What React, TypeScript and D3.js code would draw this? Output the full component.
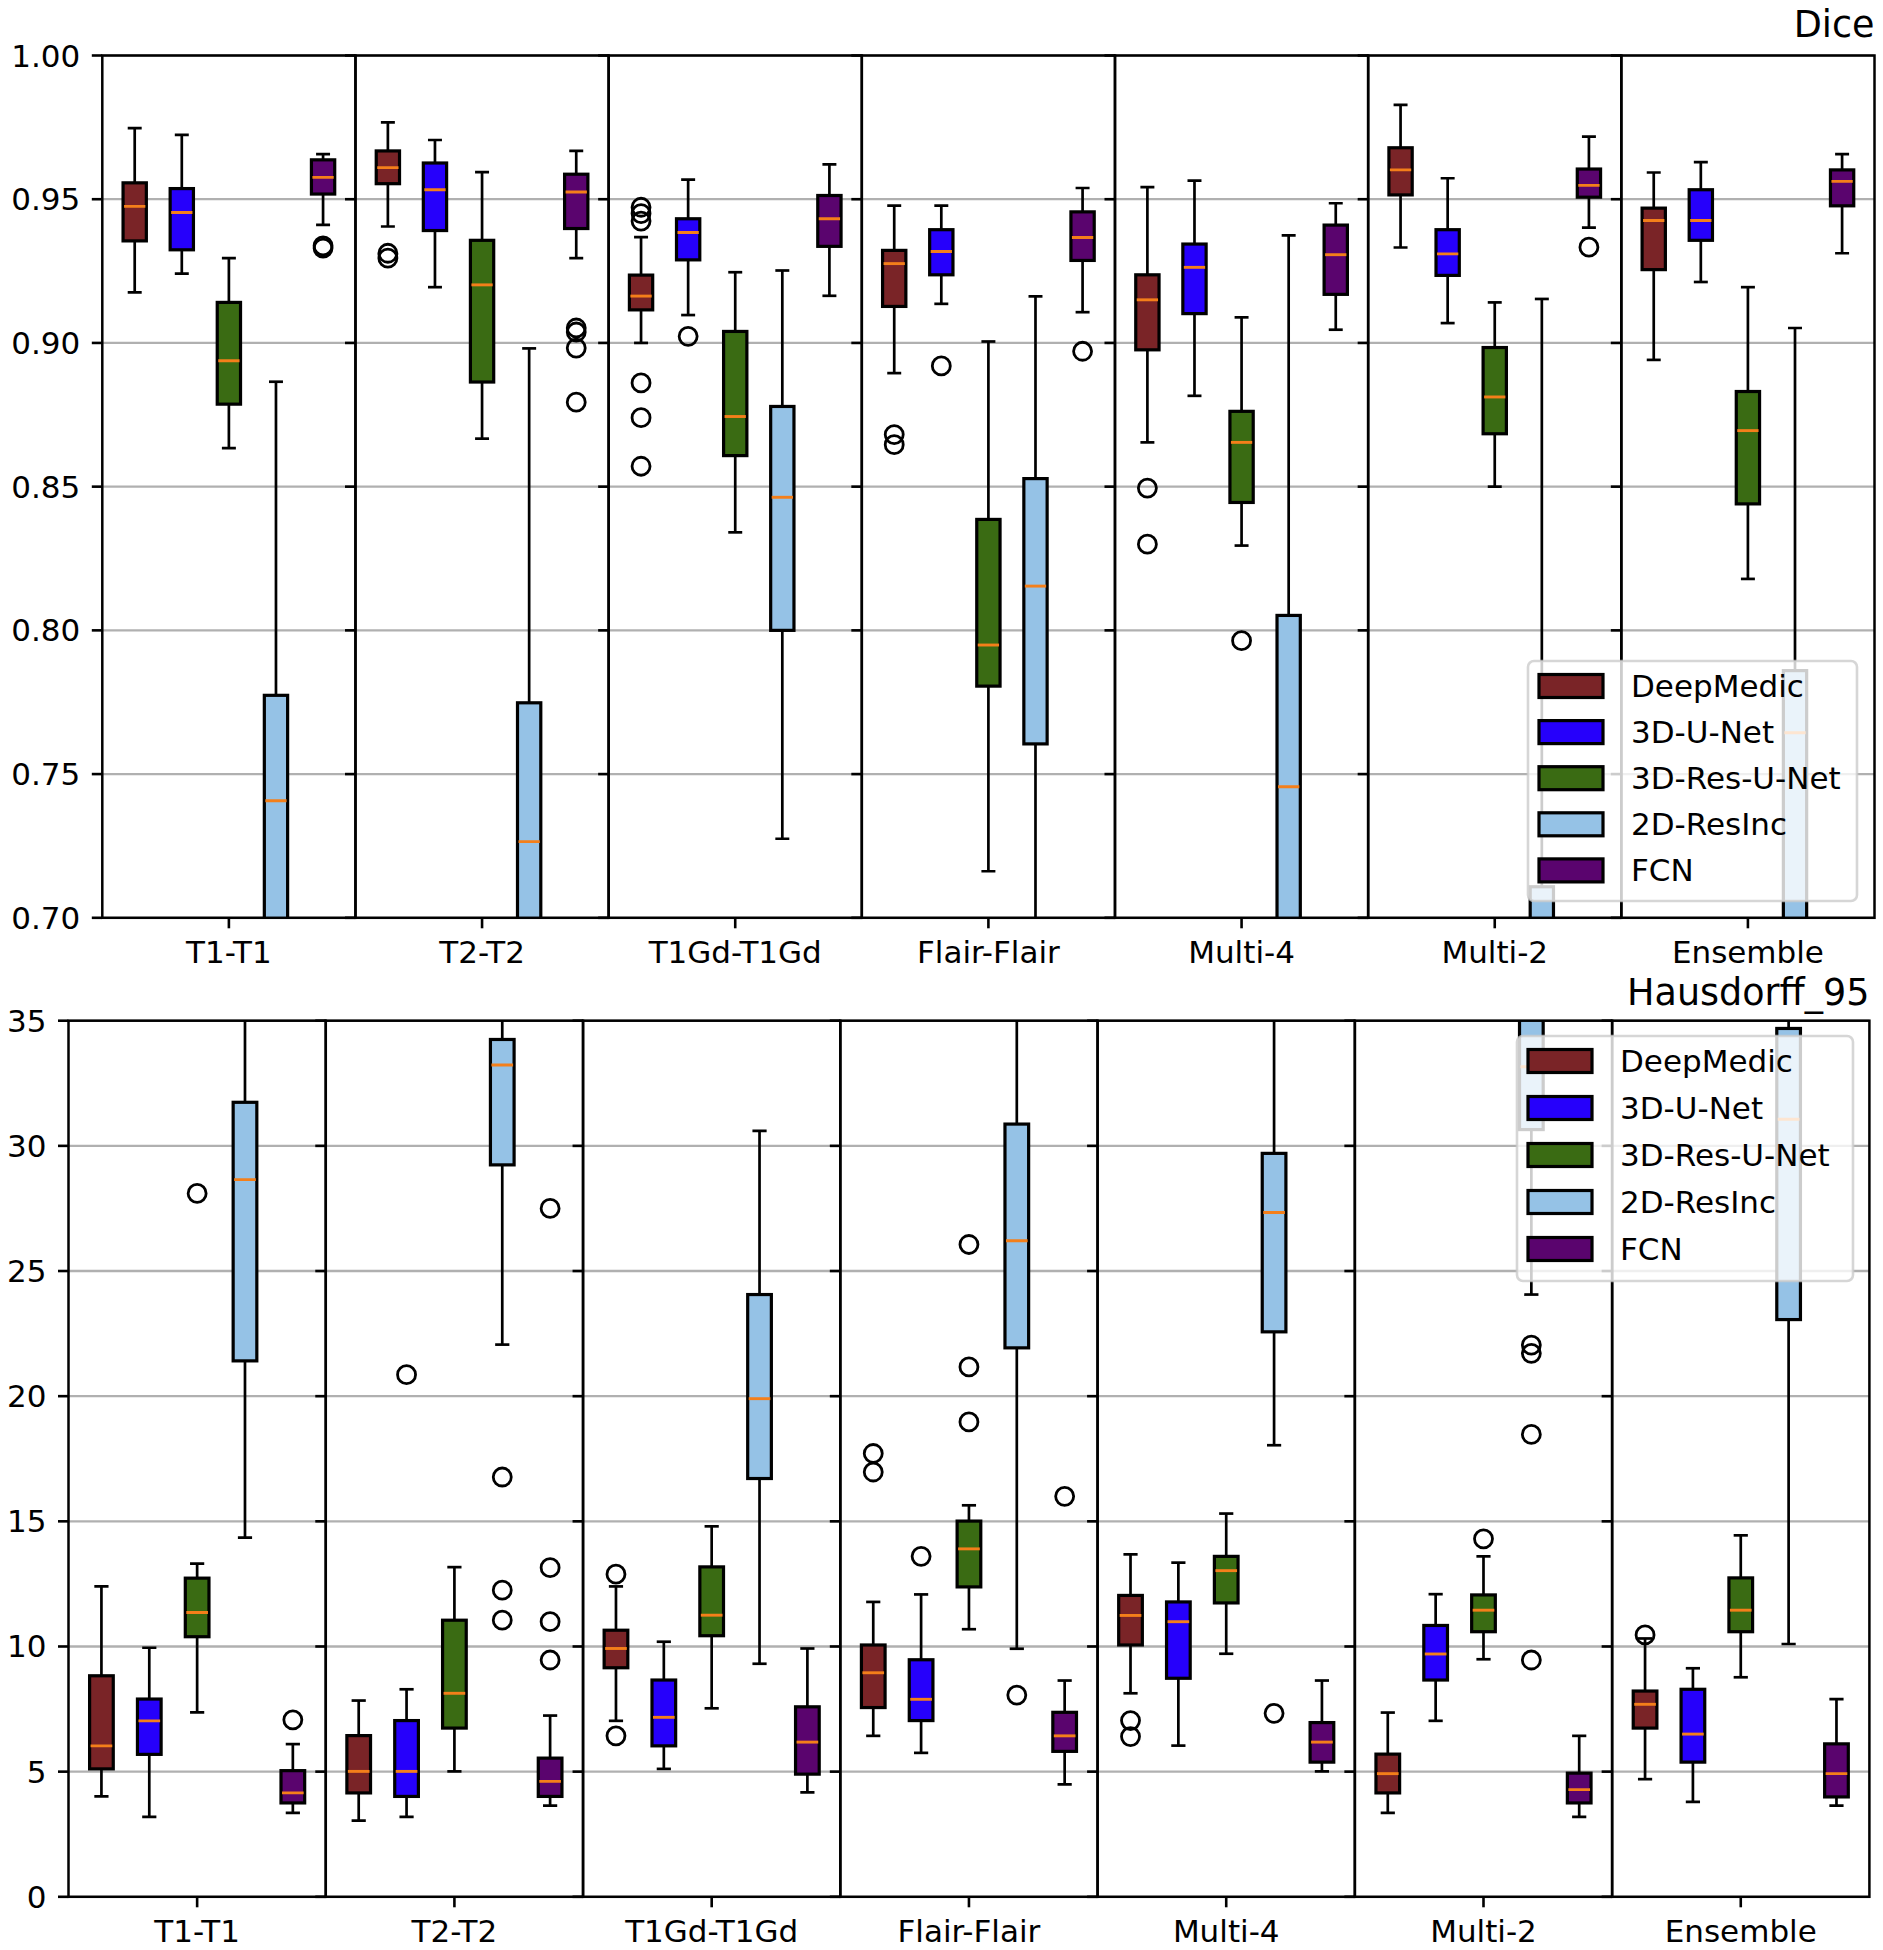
import React from "react";
import * as d3 from "d3";

// ---------- data ----------
const categories = ["T1-T1", "T2-T2", "T1Gd-T1Gd", "Flair-Flair", "Multi-4", "Multi-2", "Ensemble"];
const models = ["DeepMedic", "3D-U-Net", "3D-Res-U-Net", "2D-ResInc", "FCN"];
const modelColors = ["#7a2427", "#2600fb", "#3a6b13", "#95c2e6", "#5a046e"];

// each row: [lower whisker, q1, median, q3, upper whisker] per category
const diceDeepMedic = [
  [0.9176, 0.9355, 0.9475, 0.9557, 0.9747],
  [0.9405, 0.9554, 0.961, 0.9668, 0.9767],
  [0.9, 0.9115, 0.9163, 0.9236, 0.9368],
  [0.8895, 0.9127, 0.9276, 0.9322, 0.9478],
  [0.8654, 0.8976, 0.915, 0.9237, 0.9542],
  [0.9332, 0.9515, 0.9602, 0.9679, 0.9828],
  [0.8941, 0.9255, 0.9426, 0.9469, 0.9593],
];
const diceDeepMedicOut = [[], [0.9312, 0.9295], [0.9472, 0.945, 0.9424, 0.8861, 0.874, 0.8571], [0.8681, 0.8646], [0.8495, 0.83], [], []];

const diceUNet = [
  [0.9241, 0.9324, 0.9454, 0.9537, 0.9724],
  [0.9194, 0.9391, 0.9533, 0.9626, 0.9706],
  [0.9097, 0.9289, 0.9384, 0.9432, 0.9568],
  [0.9136, 0.9237, 0.9318, 0.9394, 0.9478],
  [0.8816, 0.9102, 0.9263, 0.9344, 0.9565],
  [0.9069, 0.9235, 0.931, 0.9394, 0.9573],
  [0.9212, 0.9357, 0.9426, 0.9533, 0.9629],
];
const diceUNetOut = [[], [], [0.9023], [0.892], [], [], []];

const diceResUNet = [
  [0.8634, 0.8787, 0.8938, 0.9141, 0.9295],
  [0.8667, 0.8864, 0.9202, 0.9357, 0.9594],
  [0.8341, 0.8608, 0.8744, 0.904, 0.9246],
  [0.7162, 0.7806, 0.7949, 0.8386, 0.9005],
  [0.8295, 0.8445, 0.8654, 0.8762, 0.9089],
  [0.85, 0.8684, 0.8812, 0.8984, 0.9141],
  [0.8179, 0.844, 0.8695, 0.8831, 0.9194],
];
const diceResUNetOut = [[], [], [], [], [0.7964], [], []];

const diceResInc = [
  [0.45, 0.62, 0.7407, 0.7774, 0.8865],
  [0.48, 0.64, 0.7265, 0.7748, 0.8981],
  [0.7275, 0.8, 0.8463, 0.8779, 0.9252],
  [0.6, 0.7605, 0.8154, 0.8528, 0.9162],
  [0.5, 0.66, 0.7456, 0.8052, 0.9374],
  [0.4, 0.55, 0.65, 0.7108, 0.9153],
  [0.45, 0.62, 0.7644, 0.786, 0.9052],
];
const diceResIncOut = [[], [], [], [], [], [], []];

const diceFCN = [
  [0.9411, 0.9518, 0.9576, 0.9637, 0.9657],
  [0.9295, 0.9398, 0.9525, 0.9587, 0.9668],
  [0.9164, 0.9336, 0.9432, 0.9513, 0.9621],
  [0.9107, 0.9287, 0.9367, 0.9456, 0.9539],
  [0.9046, 0.9169, 0.9307, 0.941, 0.9486],
  [0.9401, 0.9507, 0.9548, 0.9605, 0.9718],
  [0.9312, 0.9477, 0.9562, 0.9602, 0.9657],
];
const diceFCNOut = [[0.9338, 0.933], [0.9052, 0.9038, 0.8982, 0.8794], [], [0.8971], [], [0.9333], []];

const hdDeepMedic = [
  [4.01, 5.11, 6.03, 8.83, 12.4],
  [3.04, 4.15, 5.01, 6.44, 7.84],
  [7.03, 9.15, 9.92, 10.65, 12.4],
  [6.43, 7.56, 8.95, 10.06, 11.78],
  [8.13, 10.06, 11.24, 12.04, 13.68],
  [3.35, 4.15, 4.92, 5.7, 7.36],
  [4.7, 6.74, 7.69, 8.22, 10.32],
];
const hdDeepMedicOut = [[], [], [12.89, 6.43], [17.71, 16.97], [7.04, 6.4], [], [10.46]];

const hdUNet = [
  [3.19, 5.69, 7.03, 7.9, 9.95],
  [3.19, 4.01, 5.01, 7.04, 8.29],
  [5.11, 6.03, 7.17, 8.66, 10.19],
  [5.75, 7.04, 7.89, 9.47, 12.08],
  [6.04, 8.73, 10.99, 11.78, 13.35],
  [7.03, 8.66, 9.7, 10.84, 12.09],
  [3.79, 5.38, 6.5, 8.29, 9.13],
];
const hdUNetOut = [[], [20.86], [], [13.6], [], [], []];

const hdResUNet = [
  [7.37, 10.39, 11.36, 12.73, 13.31],
  [5.01, 6.74, 8.13, 11.05, 13.17],
  [7.53, 10.43, 11.25, 13.18, 14.8],
  [10.69, 12.38, 13.9, 15.01, 15.64],
  [9.71, 11.74, 13.03, 13.6, 15.31],
  [9.49, 10.59, 11.45, 12.06, 13.6],
  [8.77, 10.59, 11.45, 12.74, 14.44],
];
const hdResUNetOut = [[28.1], [], [], [26.06, 21.17, 18.97], [], [14.3], []];

const hdResInc = [
  [14.35, 21.41, 28.65, 31.74, 45],
  [22.06, 29.24, 33.23, 34.25, 45],
  [9.31, 16.71, 19.9, 24.06, 30.6],
  [9.91, 21.93, 26.21, 30.87, 42],
  [18.04, 22.57, 27.34, 29.7, 40],
  [24.06, 30.65, 33.16, 38, 48],
  [10.1, 23.06, 31.06, 34.69, 45],
];
const hdResIncOut = [[], [16.77, 12.25, 11.05], [], [8.06], [7.33], [22.04, 21.71, 18.47, 9.46], []];

const hdFCN = [
  [3.35, 3.75, 4.15, 5.04, 6.1],
  [3.64, 4.01, 4.61, 5.54, 7.24],
  [4.17, 4.9, 6.18, 7.59, 9.92],
  [4.49, 5.81, 6.43, 7.37, 8.64],
  [5.01, 5.38, 6.18, 6.96, 8.64],
  [3.19, 3.75, 4.28, 4.94, 6.43],
  [3.64, 3.99, 4.92, 6.11, 7.9],
];
const hdFCNOut = [[7.07], [27.5, 13.15, 10.99, 9.46], [], [16.0], [], [], []];

const diceTicks = [0.7, 0.75, 0.8, 0.85, 0.9, 0.95, 1.0];
const hdTicks = [0, 5, 10, 15, 20, 25, 30, 35];

const diceStats = [diceDeepMedic, diceUNet, diceResUNet, diceResInc, diceFCN];
const diceOut = [diceDeepMedicOut, diceUNetOut, diceResUNetOut, diceResIncOut, diceFCNOut];
const hdStats = [hdDeepMedic, hdUNet, hdResUNet, hdResInc, hdFCN];
const hdOut = [hdDeepMedicOut, hdUNetOut, hdResUNetOut, hdResIncOut, hdFCNOut];

// ---------- drawing ----------
const FONT = "'DejaVu Sans', 'Liberation Sans', sans-serif";
const BOX_LW = 3.2;
const LW = 2.7;
const MEDIAN = "#f47f1a";

type PanelProps = {
  id: string;
  left: number; right: number; top: number; bottom: number;
  domain: [number, number];
  ticks: number[];
  fmt: (v: number) => string;
  stats: number[][][];
  outs: number[][][];
  title: string;
  titleBaseline: number;
  legend: { x: number; y: number; w: number; h: number; step: number };
};

function Panel(p: PanelProps) {
  const x = d3.scaleBand<string>().domain(categories).range([p.left, p.right]).padding(0);
  const y = d3.scaleLinear().domain(p.domain).range([p.bottom, p.top]);
  const bw = x.bandwidth();
  const offset = d3.scaleLinear().domain([0, models.length - 1]).range([-0.372 * bw, 0.372 * bw]);
  const boxW = 0.092 * bw;
  const capW = boxW * 0.6;
  const clipId = `clip-${p.id}`;
  const tickLen = 10.5;

  return (
    <g>
      <defs>
        <clipPath id={clipId}>
          <rect x={p.left} y={p.top} width={p.right - p.left} height={p.bottom - p.top} />
        </clipPath>
      </defs>
      {/* grid */}
      <g>
        {p.ticks.map((t) => (
          <line key={t} x1={p.left} x2={p.right} y1={y(t)} y2={y(t)} stroke="#b0b0b0" strokeWidth={2.3} />
        ))}
      </g>
      {/* boxes */}
      <g clipPath={`url(#${clipId})`}>
        {categories.map((c, ci) =>
          models.map((m, mi) => {
            const [lo, q1, med, q3, hi] = p.stats[mi][ci];
            const cx = (x(c) as number) + bw / 2 + offset(mi);
            return (
              <g key={`${c}-${m}`}>
                <line x1={cx} x2={cx} y1={y(q1)} y2={y(lo)} stroke="#000" strokeWidth={LW} />
                <line x1={cx} x2={cx} y1={y(q3)} y2={y(hi)} stroke="#000" strokeWidth={LW} />
                <line x1={cx - capW / 2} x2={cx + capW / 2} y1={y(lo)} y2={y(lo)} stroke="#000" strokeWidth={LW} />
                <line x1={cx - capW / 2} x2={cx + capW / 2} y1={y(hi)} y2={y(hi)} stroke="#000" strokeWidth={LW} />
                <rect x={cx - boxW / 2} y={y(q3)} width={boxW} height={y(q1) - y(q3)}
                  fill={modelColors[mi]} stroke="#000" strokeWidth={BOX_LW} />
                <line x1={cx - boxW / 2 + 1} x2={cx + boxW / 2 - 1} y1={y(med)} y2={y(med)} stroke={MEDIAN} strokeWidth={2.9} />
                {p.outs[mi][ci].map((v, k) => (
                  <circle key={k} cx={cx} cy={y(v)} r={9} fill="none" stroke="#000" strokeWidth={2.8} />
                ))}
              </g>
            );
          })
        )}
      </g>
      {/* ticks per subplot */}
      {categories.map((c, ci) => {
        const sx = x(c) as number;
        return (
          <g key={`ax-${c}`}>
            {p.ticks.map((t) => (
              <line key={t} x1={sx - tickLen} x2={sx} y1={y(t)} y2={y(t)} stroke="#000" strokeWidth={2.6} />
            ))}
            <line x1={sx + bw / 2} x2={sx + bw / 2} y1={p.bottom} y2={p.bottom + tickLen} stroke="#000" strokeWidth={2.6} />
            <text x={sx + bw / 2} y={p.bottom + 45.5} textAnchor="middle" fontFamily={FONT} fontSize={31} fill="#000">
              {c}
            </text>
            <rect x={sx} y={p.top} width={bw} height={p.bottom - p.top} fill="none" stroke="#000" strokeWidth={2.5} />
          </g>
        );
      })}
      {/* y tick labels */}
      {p.ticks.map((t) => (
        <text key={t} x={p.left - 22} y={y(t) + 11} textAnchor="end" fontFamily={FONT} fontSize={31} fill="#000">
          {p.fmt(t)}
        </text>
      ))}
      {/* title */}
      <text x={p.right} y={p.titleBaseline} textAnchor="end" fontFamily={FONT} fontSize={36.5} fill="#000">
        {p.title}
      </text>
      {/* legend */}
      <g>
        <rect x={p.legend.x} y={p.legend.y} width={p.legend.w} height={p.legend.h} rx={6} ry={6}
          fill="#ffffff" fillOpacity={0.8} stroke="#cccccc" strokeOpacity={0.8} strokeWidth={2.6} />
        {models.map((m, mi) => {
          const cy = p.legend.y + 25 + mi * p.legend.step;
          return (
            <g key={m}>
              <rect x={p.legend.x + 11} y={cy - 11.5} width={64} height={23} fill={modelColors[mi]} stroke="#000" strokeWidth={BOX_LW} />
              <text x={p.legend.x + 103} y={cy + 11} fontFamily={FONT} fontSize={31} fill="#000">
                {m}
              </text>
            </g>
          );
        })}
      </g>
    </g>
  );
}

export default function App() {
  const fmt2 = d3.format(".2f");
  const fmt0 = d3.format("d");
  return (
    <svg width={1883} height={1950} style={{ position: "absolute", left: 0, top: 0, background: "#fff" }}>
      <rect x={0} y={0} width={1883} height={1950} fill="#fff" />
      <Panel id="dice" left={102.3} right={1874.5} top={55.5} bottom={917.8} domain={[0.7, 1.0]}
        ticks={diceTicks} fmt={fmt2} stats={diceStats} outs={diceOut} title="Dice" titleBaseline={37}
        legend={{ x: 1528, y: 661, w: 329, h: 240, step: 46.1 }} />
      <Panel id="hd" left={68.5} right={1869.4} top={1020.7} bottom={1896.8} domain={[0, 35]}
        ticks={hdTicks} fmt={fmt0} stats={hdStats} outs={hdOut} title="Hausdorff_95" titleBaseline={1005}
        legend={{ x: 1517, y: 1036, w: 336, h: 245, step: 47 }} />
    </svg>
  );
}
